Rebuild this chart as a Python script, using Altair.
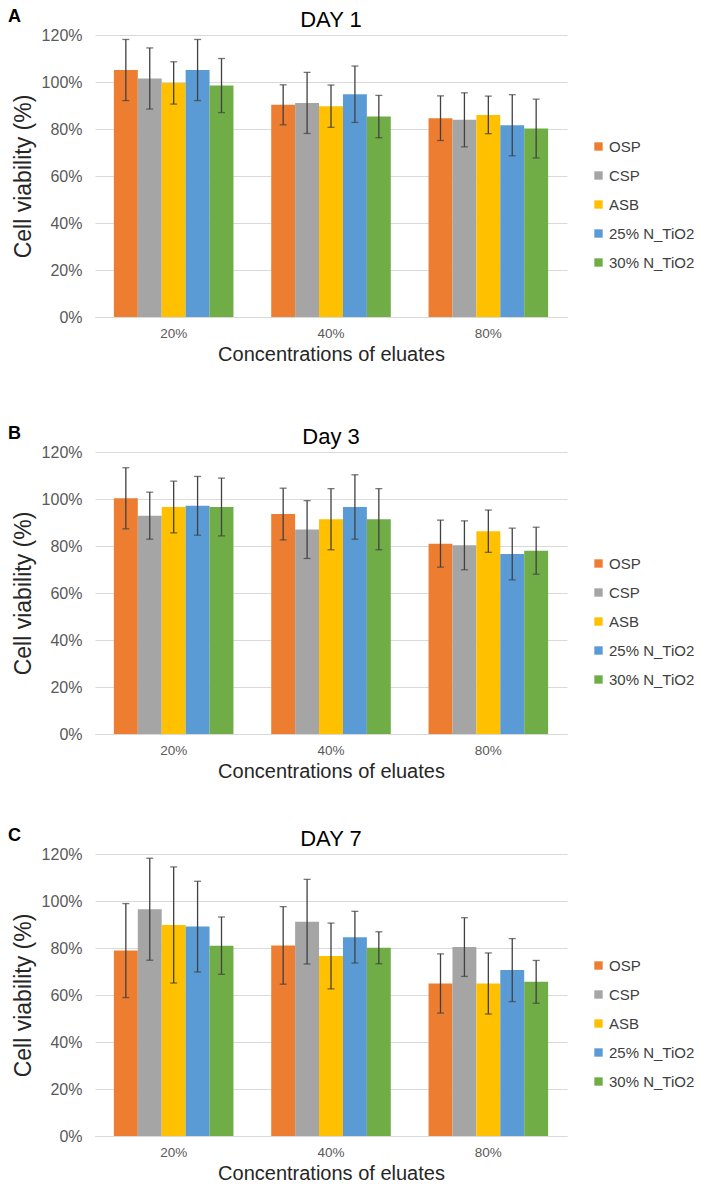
import altair as alt
import pandas as pd

concentrations = ["20%", "40%", "80%"]
materials = ["OSP", "CSP", "ASB", "25% N_TiO2", "30% N_TiO2"]
colors = ["#ED7D31", "#A5A5A5", "#FFC000", "#5B9BD5", "#70AD47"]

# values ordered: for each concentration, materials in order
day1_means = [105.1, 101.5, 99.6, 105.1, 98.5,
              90.3, 91.1, 89.7, 94.8, 85.3,
              84.6, 83.9, 86.0, 81.6, 80.2]
day1_errs = [13.0, 13.0, 9.0, 13.0, 11.5,
             8.5, 13.0, 9.0, 12.0, 9.0,
             9.5, 11.5, 8.0, 13.0, 12.5]

day3_means = [100.3, 92.9, 96.6, 97.1, 96.6,
              93.6, 87.0, 91.4, 96.6, 91.4,
              81.0, 80.3, 86.3, 76.6, 78.0]
day3_errs = [13.0, 10.0, 11.0, 12.5, 12.3,
             11.0, 12.3, 13.0, 13.7, 13.0,
             10.0, 10.4, 9.0, 11.0, 10.0]

day7_means = [78.9, 96.5, 89.8, 89.1, 81.0,
              81.1, 91.2, 76.6, 84.6, 80.1,
              64.9, 80.4, 64.9, 70.6, 65.6]
day7_errs = [20.0, 21.7, 24.7, 19.3, 12.2,
             16.5, 18.0, 14.0, 11.0, 6.8,
             12.6, 12.5, 13.0, 13.4, 9.1]

y_ticks = [0, 20, 40, 60, 80, 100, 120]

FONT = "Liberation Sans"
W, H = 472, 282


def panel(letter, title, means, errs):
    rows = []
    i = 0
    for c in concentrations:
        for m in materials:
            rows.append({"conc": c, "material": m, "mean": means[i],
                         "lo": means[i] - errs[i], "hi": means[i] + errs[i]})
            i += 1
    df = pd.DataFrame(rows)
    base = alt.Chart(df)
    x = alt.X("conc:N", sort=concentrations,
              scale=alt.Scale(paddingInner=0.24, paddingOuter=0.12),
              axis=alt.Axis(title="Concentrations of eluates", labelAngle=0,
                            labelFontSize=13.5, labelColor="#595959", labelFont=FONT,
                            labelPadding=9, ticks=False, domain=True,
                            domainColor="#D9D9D9", domainWidth=1,
                            titleFont=FONT, titleFontSize=20, titleFontWeight="normal",
                            titleColor="#262626", titlePadding=5))
    xoff = alt.XOffset("material:N", sort=materials,
                       scale=alt.Scale(paddingInner=0, paddingOuter=0))
    y = alt.Y("mean:Q", scale=alt.Scale(domain=[0, 120]),
              axis=alt.Axis(values=y_ticks, labelExpr="datum.value + '%'",
                            title="Cell viability (%)", domain=False, ticks=False,
                            gridColor="#D9D9D9", gridWidth=1,
                            labelFontSize=16, labelColor="#595959", labelFont=FONT,
                            labelPadding=13,
                            titleFont=FONT, titleFontSize=23, titleFontWeight="normal",
                            titleColor="#262626", titlePadding=6))
    bars = base.mark_bar(strokeWidth=0).encode(
        x=x, xOffset=xoff, y=y,
        color=alt.Color("material:N", sort=materials,
                        scale=alt.Scale(domain=materials, range=colors),
                        legend=alt.Legend(title=None, orient="none", legendX=496,
                                          legendY=104, symbolType="square",
                                          symbolSize=70, symbolStrokeWidth=0,
                                          labelFont=FONT, labelFontSize=15,
                                          labelColor="#404040", rowPadding=13,
                                          labelOffset=3)))
    rules = base.mark_rule(color="#404040", strokeWidth=1.3).encode(
        x=x, xOffset=xoff, y="lo:Q", y2="hi:Q")
    cap_lo = base.mark_tick(color="#404040", size=7, thickness=1.3,
                            orient="horizontal").encode(x=x, xOffset=xoff, y="lo:Q")
    cap_hi = base.mark_tick(color="#404040", size=7, thickness=1.3,
                            orient="horizontal").encode(x=x, xOffset=xoff, y="hi:Q")
    lab = alt.Chart(pd.DataFrame({"t": [letter]})).mark_text(
        font=FONT, fontSize=18, fontWeight="bold", align="left", baseline="top",
        color="#000000").encode(x=alt.value(-87), y=alt.value(-27), text="t:N")
    ttl = alt.Chart(pd.DataFrame({"t": [title]})).mark_text(
        font=FONT, fontSize=22, align="center", baseline="middle",
        color="#000000").encode(x=alt.value(W / 2), y=alt.value(-15), text="t:N")
    return alt.layer(bars, rules, cap_lo, cap_hi, lab, ttl).properties(
        width=W, height=H)


pA = panel("A", "DAY 1", day1_means, day1_errs)
pB = panel("B", "Day 3", day3_means, day3_errs)
pC = panel("C", "DAY 7", day7_means, day7_errs)

chart = alt.vconcat(
    alt.vconcat(pA, pB, spacing=60).resolve_legend(color="independent"),
    pC, spacing=45
).resolve_legend(color="independent").configure_view(stroke=None).properties(
    padding=0, background="white")

chart.save("out.html", embed_options={"renderer": "svg", "actions": False})
